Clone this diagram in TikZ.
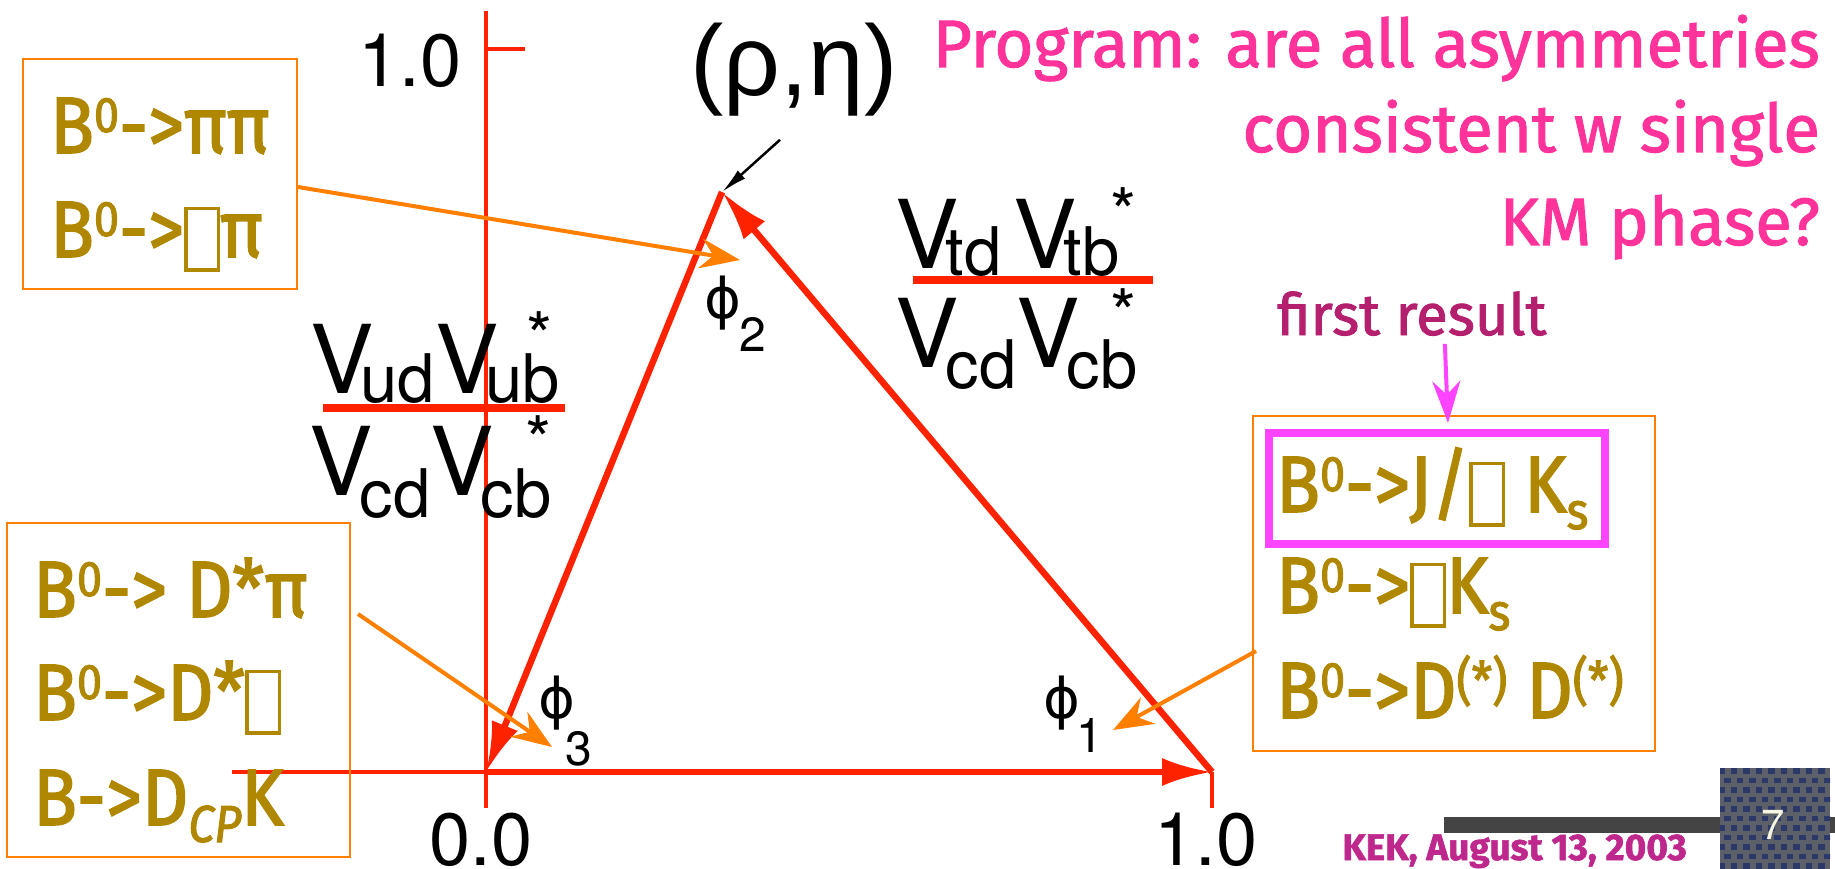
\documentclass[tikz,border=0pt]{standalone}
\usepackage{fontspec}
\setmainfont{TeX Gyre Heros}
\newfontfamily\comic[FakeStretch=0.9,FakeBold=2]{Fira Sans}
\newfontfamily\comict[FakeBold=1.5]{Fira Sans}
\newfontfamily\hv{TeX Gyre Heros}
\newfontfamily\grk{Liberation Sans}
\newfontfamily\djv{DejaVu Sans}
\usetikzlibrary{arrows.meta}
\definecolor{axred}{RGB}{255,34,0}
\definecolor{olivetxt}{RGB}{175,135,0}
\definecolor{boxorange}{RGB}{255,127,0}
\definecolor{titlepink}{RGB}{255,51,153}
\definecolor{plum}{RGB}{180,32,110}
\definecolor{magbox}{RGB}{255,68,255}
\definecolor{kekpink}{RGB}{190,40,140}
\definecolor{bargray}{RGB}{68,68,68}
\definecolor{tilegray}{RGB}{92,96,104}
\definecolor{tileblue}{RGB}{44,56,104}
\newcommand\Bzero{B\raisebox{21pt}{\fontsize{50}{50}\selectfont 0}}
\newcommand\tofu{\raisebox{-11pt}{\setlength\fboxrule{3.5pt}\setlength\fboxsep{0pt}\fbox{\rule{0pt}{58pt}\hspace{29pt}}}}
\newcommand\subs[1]{\raisebox{-17pt}{\fontsize{52}{52}\selectfont #1}}
\newcommand\sups[1]{\raisebox{19pt}{\fontsize{52}{52}\selectfont #1}}
\newcommand\Vs[2]{V\kern-13pt\raisebox{-#2}{\fontsize{67}{67}\selectfont #1}}
\newcommand\phisub[3]{{\djv\fontsize{56}{56}\selectfont ϕ}\kern#3\raisebox{-#2}{\fontsize{48}{48}\selectfont #1}}
\tikzset{
 olv/.style={text=olivetxt, font=\comic\fontsize{80}{80}\selectfont, anchor=base west, inner sep=0pt},
 obox/.style={draw=boxorange, line width=2pt, inner sep=0pt},
 oarrow/.style={draw=boxorange, line width=4pt, -{Stealth[length=40pt,width=30pt]}},
 tri/.style={draw=axred, line width=6.5pt, -{Latex[length=50pt,width=28pt]}},
 axisline/.style={draw=axred, line width=4pt},
 ulin/.style={draw=axred, line width=8pt},
 num/.style={font=\hv\fontsize{74}{74}\selectfont, inner sep=0pt},
 ckm/.style={font=\hv\fontsize{95}{95}\selectfont, anchor=base west, inner sep=0pt},
 cstar/.style={font=\hv\fontsize{67}{67}\selectfont, inner sep=0pt},
 phil/.style={font=\hv, anchor=base west, inner sep=0pt},
 ttl/.style={text=titlepink, font=\comict\fontsize{67}{67}\selectfont, anchor=base east, inner sep=0pt},
}
\begin{document}
\begin{tikzpicture}[x=1pt,y=-1pt]
\useasboundingbox (0,0) rectangle (1835,869);
% axes
\coordinate (O) at (486,772);
\coordinate (A) at (722,192);
\coordinate (R) at (1212,772);
\coordinate (ytop) at (486,11);
\coordinate (ybot) at (486,808);
\coordinate (xleft) at (232,772);
\coordinate (rtick) at (1212,808);
\draw[axisline] (ytop) -- (ybot);
\draw[axisline] (486,49) -- (525,49);
\draw[axisline] (xleft) -- (O);
\draw[axisline] (R) -- (rtick);
% triangle
\draw[tri] (O) -- (R);
\draw[tri] (R) -- (A);
\draw[tri] (A) -- (O);
% axis numbers
\node[num] (ytick) at (410,61) {1.0};
\node[num] (xzero) at (481,840) {0.0};
\node[num] (xone) at (1206,840) {1.0};
% rho eta
\node[font=\grk\fontsize{100}{100}\selectfont, inner sep=0pt] (rhoeta) at (794,70) {(ρ,η)};
\draw[line width=2.5pt, -{Latex[length=26pt,width=11pt]}] ([xshift=-14pt,yshift=-23pt]rhoeta.south) -- (A);
% phi labels
\node[phil] (phi2) at (704,318) {\phisub{2}{33pt}{-2pt}};
\node[phil] (phi3) at (538,718) {\phisub{3}{47pt}{-10pt}};
\node[phil] (phi1) at (1043,718) {\phisub{1}{34pt}{-4pt}};
% CKM ratios
\node[ckm] (numL) at (310,393) {\Vs{ud}{9pt}\Vs{ub}{9pt}};
\node[cstar] (starNL) at (540,336) {*};
\draw[ulin] (323,408) -- (565,408);
\node[ckm] (denL) at (309,495) {\Vs{cd}{22pt}\Vs{cb}{22pt}};
\node[cstar] (starDL) at (539,440) {*};
\node[ckm] (numR) at (895,268) {\Vs{td}{7pt}\kern12pt\Vs{tb}{7pt}};
\node[cstar] (starNR) at (1124,212) {*};
\draw[ulin] (913,280) -- (1153,280);
\node[ckm] (denR) at (895,367) {\Vs{cd}{21pt}\Vs{cb}{21pt}};
\node[cstar] (starDR) at (1124,313) {*};
% left top box
\node[obox, minimum width=274pt, minimum height=230pt] (box1) at (160,174) {};
\node[olv] (l11) at (50,153) {\Bzero->ππ};
\node[olv] (l12) at (50,257) {\Bzero->\tofu π};
% left bottom box
\node[obox, minimum width=343pt, minimum height=334pt] (box2) at (178.5,690) {};
\node[olv] (l21) at (33,617) {\Bzero-> D*π};
\node[olv] (l22) at (33,720) {\Bzero->D*\tofu};
\node[olv] (l23) at (33,825) {B->D{\itshape\subs{CP}}K};
% right box
\node[obox, minimum width=402pt, minimum height=335pt] (box3) at (1454,583.5) {};
\node[draw=magbox, line width=8pt, minimum width=336pt, minimum height=111pt, inner sep=0pt] (pbox) at (1437,488.5) {};
\node[olv] (l31) at (1276,512) {\Bzero->J/\tofu\ K\subs{s}};
\node[olv] (l32) at (1276,613) {\Bzero->\tofu K\subs{s}};
\node[olv] (l33) at (1276,718) {\Bzero->D\sups{(*)} D\sups{(*)}};
% first result
\node[text=plum, font=\comict\fontsize{58}{58}\selectfont, anchor=base west, inner sep=0pt] (fr) at (1277,335) {first result};
\draw[draw=magbox, line width=4pt, -{Stealth[length=42pt,width=28pt]}] ([xshift=33pt,yshift=-8pt]fr.south) -- ([xshift=11pt,yshift=6pt]pbox.north);
% orange connectors
\coordinate (t2) at (740,260);
\coordinate (t3) at (552,747);
\coordinate (t1) at (1113,730);
\draw[oarrow] ([yshift=-13pt]box1.east) -- (t2);
\draw[oarrow] ([xshift=7pt,yshift=76pt]box2.east) -- (t3);
\draw[oarrow] ([xshift=4pt,yshift=-67.5pt]box3.west) -- (t1);
% title
\node[ttl] (title1) at (1820,67) {Program: are all asymmetries};
\node[ttl] (title2) at (1820,152) {consistent w single};
\node[ttl] (title3) at (1820,245) {KM phase?};
% footer
\fill[bargray] (1444,817) rectangle (1835,833);
\node[fill=tilegray, minimum width=110pt, minimum height=101pt, inner sep=0pt] (tile) at (1775,818.5) {};
\begin{scope}
\clip (1720,768) rectangle (1830,869);
\foreach \i in {0,...,9} {
  \foreach \j in {0,...,10} {
    \fill[tileblue] ({1718+\i*12.5+mod(\j,2)*6}, {768+\j*9.5}) rectangle ++(6.5,5.5);
  }
}
\end{scope}
\node[text={rgb,255:red,245;green,245;blue,225}, font=\hv\fontsize{42}{42}\selectfont, inner sep=0pt] (pnum) at (1773,825) {7};
\node[text=kekpink, font=\comict\bfseries\fontsize{37}{37}\selectfont, anchor=base east, inner sep=0pt] (kek) at (1687,860) {KEK, August 13, 2003};
\end{tikzpicture}
\end{document}
